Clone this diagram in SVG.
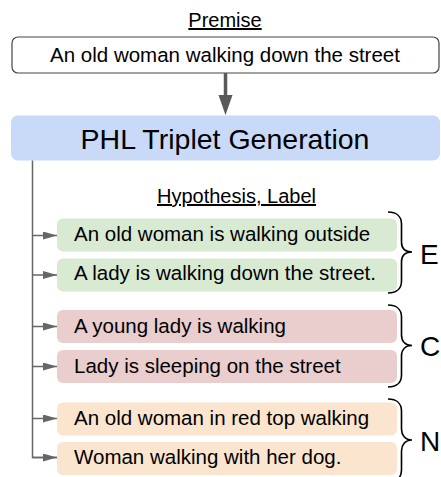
<svg xmlns="http://www.w3.org/2000/svg" width="441" height="477" viewBox="0 0 441 477">
<defs>
<style>
text{font-family:"Liberation Sans",Arial,sans-serif;fill:#000}
.t{font-size:20.5px}
.h{font-size:20px;text-decoration:underline}
.big{font-size:28.5px}
.lab{font-size:28px}
.box{stroke:none}
.e{fill:#d9ead3}
.c{fill:#eacdcd}
.n{fill:#fbe5cf}
.conn{fill:none;stroke:#666;stroke-width:1.5}
.brace{fill:none;stroke:#000;stroke-width:1.6}
</style>
<marker id="ah" markerUnits="userSpaceOnUse" markerWidth="15" markerHeight="10" refX="14" refY="4" orient="auto">
<path d="M0,0 L14,4 L0,8 Z" fill="#666"/>
</marker>
</defs>
<rect width="441" height="477" fill="#fff"/>
<g id="premise">
<text class="h" x="225" y="27" text-anchor="middle">Premise</text>
<rect x="12" y="37" width="427" height="36" rx="6" fill="#fff" stroke="#444" stroke-width="1.2"/>
<text class="t" x="225" y="61.5" text-anchor="middle">An old woman walking down the street</text>
</g>
<g id="phl">
<rect x="11" y="115.5" width="429" height="45" rx="7" fill="#c9daf8"/>
<text class="big" x="225" y="149" text-anchor="middle">PHL Triplet Generation</text>
</g>
<text class="h" x="236.5" y="203" text-anchor="middle">Hypothesis, Label</text>
<g id="connectors">
<line x1="225.5" y1="73" x2="225.5" y2="96" stroke="#595959" stroke-width="3.5"/>
<path d="M218.5,95 L232.5,95 L225.5,115 Z" fill="#595959"/>
<path class="conn" d="M32.5,160.5 V457.5 H57"/>
<line class="conn" x1="32.5" y1="457.5" x2="57" y2="457.5" marker-end="url(#ah)"/>
<line class="conn" x1="32.5" y1="235.5" x2="57" y2="235.5" marker-end="url(#ah)"/>
<line class="conn" x1="32.5" y1="275" x2="57" y2="275" marker-end="url(#ah)"/>
<line class="conn" x1="32.5" y1="326.5" x2="57" y2="326.5" marker-end="url(#ah)"/>
<line class="conn" x1="32.5" y1="366.5" x2="57" y2="366.5" marker-end="url(#ah)"/>
<line class="conn" x1="32.5" y1="418.5" x2="57" y2="418.5" marker-end="url(#ah)"/>
</g>
<g id="h1"><rect class="box e" x="57" y="218.5" width="340" height="33" rx="6"/><text class="t" x="74" y="241">An old woman is walking outside</text></g>
<g id="h2"><rect class="box e" x="57" y="258.5" width="340" height="33" rx="6"/><text class="t" x="74" y="280">A lady is walking down the street.</text></g>
<g id="h3"><rect class="box c" x="57" y="310" width="340" height="33" rx="6"/><text class="t" x="74" y="333">A young lady is walking</text></g>
<g id="h4"><rect class="box c" x="57" y="350" width="340" height="33" rx="6"/><text class="t" x="74" y="373">Lady is sleeping on the street</text></g>
<g id="h5"><rect class="box n" x="57" y="402.5" width="340" height="33" rx="6"/><text class="t" x="74" y="425">An old woman in red top walking</text></g>
<g id="h6"><rect class="box n" x="57" y="442" width="340" height="33" rx="6"/><text class="t" x="74" y="464">Woman walking with her dog.</text></g>
<g id="labelE">
<path class="brace" d="M388,212 C396,212 401.5,216 401.5,224 L401.5,242 C401.5,248 405,252 412,252 C405,252 401.5,256 401.5,262 L401.5,281 C401.5,289 396,293 388,293"/>
<text class="lab" x="420" y="263.5">E</text>
</g>
<g id="labelC">
<path class="brace" d="M388,305 C396,305 401.5,309 401.5,317 L401.5,335 C401.5,341 405,345.5 412,345.5 C405,345.5 401.5,350 401.5,356 L401.5,375 C401.5,383 396,387 388,387"/>
<text class="lab" x="420" y="356">C</text>
</g>
<g id="labelN">
<path class="brace" d="M388,399 C396,399 401.5,403 401.5,411 L401.5,429 C401.5,435 405,440 412,440 C405,440 401.5,445 401.5,451 L401.5,470 C401.5,478 396,482 388,482"/>
<text class="lab" x="420" y="451">N</text>
</g>
</svg>
